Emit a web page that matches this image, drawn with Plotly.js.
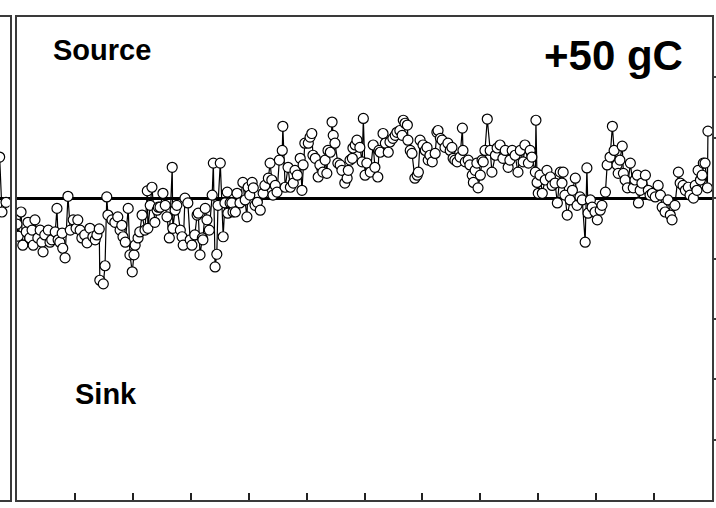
<!DOCTYPE html>
<html>
<head>
<meta charset="utf-8">
<script src="https://cdn.plot.ly/plotly-3.0.1.min.js"></script>
<style>html,body{margin:0;padding:0;background:#fff;}#chart{width:716px;height:508px;}</style>
</head>
<body>
<div id="chart"></div>
<script>
// Left (previous) panel tail
const prevMonth = [11.83, 11.87, 11.94];
const prevFlux  = [0.68, -0.23, -0.07];

// Main panel: time in months (0-12), net carbon flux (positive = source)
const month = [
0.00,0.02,0.07,0.10,0.16,0.19,0.22,0.26,0.28,0.31,0.36,0.40,0.43,0.45,0.48,0.54,0.57,0.60,0.66,0.69,
0.71,0.74,0.78,0.79,0.83,0.88,0.92,0.97,1.02,1.05,1.09,1.12,1.17,1.21,1.26,1.31,1.35,1.38,1.42,1.43,
1.49,1.52,1.55,1.57,1.64,1.69,1.74,1.78,1.81,1.83,1.87,1.92,1.95,1.99,2.02,2.04,2.09,2.12,2.16,2.21,
2.25,2.26,2.30,2.33,2.38,2.42,2.44,2.47,2.52,2.56,2.59,2.63,2.68,2.69,2.73,2.76,2.82,2.85,2.87,2.90,
2.95,2.99,3.02,3.07,3.11,3.13,3.16,3.20,3.21,3.25,3.28,3.32,3.37,3.39,3.42,3.45,3.47,3.51,3.56,3.59,
3.63,3.64,3.68,3.71,3.73,3.77,3.80,3.85,3.90,3.94,3.97,3.99,4.02,4.06,4.08,4.11,4.15,4.20,4.25,4.28,
4.34,4.37,4.40,4.42,4.46,4.49,4.53,4.58,4.59,4.63,4.68,4.72,4.77,4.80,4.84,4.89,4.92,4.94,4.97,5.03,
5.06,5.09,5.11,5.15,5.20,5.23,5.28,5.32,5.35,5.37,5.41,5.44,5.46,5.49,5.54,5.58,5.61,5.66,5.70,5.72,
5.75,5.79,5.80,5.84,5.87,5.92,5.96,5.98,6.01,6.04,6.10,6.15,6.18,6.23,6.25,6.27,6.32,6.36,6.41,6.44,
6.49,6.53,6.56,6.61,6.65,6.67,6.70,6.74,6.75,6.79,6.82,6.87,6.91,6.93,6.96,7.01,7.05,7.08,7.10,7.13,
7.17,7.22,7.25,7.27,7.31,7.34,7.39,7.44,7.48,7.51,7.53,7.56,7.60,7.65,7.69,7.70,7.74,7.79,7.82,7.86,
7.88,7.91,7.94,7.96,8.00,8.03,8.05,8.08,8.12,8.17,8.20,8.26,8.29,8.34,8.39,8.43,8.48,8.51,8.55,8.60,
8.65,8.69,8.74,8.77,8.83,8.86,8.89,8.95,8.96,8.98,9.00,9.03,9.07,9.12,9.15,9.21,9.24,9.29,9.33,9.38,
9.41,9.43,9.46,9.50,9.55,9.59,9.64,9.67,9.72,9.76,9.81,9.84,9.86,9.90,9.93,9.98,10.02,10.07,10.10,10.16,
10.19,10.24,10.28,10.31,10.36,10.38,10.41,10.45,10.47,10.50,10.54,10.59,10.64,10.67,10.71,10.73,10.76,10.79,10.85,10.90,
10.93,10.97,11.02,11.07,11.11,11.14,11.19,11.24,11.28,11.31,11.36,11.42,11.45,11.50,11.54,11.59,11.62,11.68,11.71,11.74,
11.76,11.80,11.83,11.85,11.88,11.92,11.93
];
const flux = [
-0.43,-0.63,-0.23,-0.78,-0.56,-0.40,-0.66,-0.53,-0.78,-0.36,-0.66,-0.53,-0.73,-0.89,-0.61,-0.53,-0.73,-0.69,-0.56,-0.17,
-0.69,-0.73,-0.58,-0.83,-0.99,0.03,-0.53,-0.36,-0.50,-0.36,-0.53,-0.66,-0.61,-0.74,-0.50,-0.64,-0.69,-0.61,-0.51,-1.36,
-1.42,-1.12,0.02,-0.28,-0.36,-0.40,-0.31,-0.53,-0.45,-0.64,-0.73,-0.17,-0.94,-1.22,-0.94,-0.78,-0.66,-0.56,-0.28,-0.53,
0.12,-0.50,-0.12,0.18,-0.40,-0.20,-0.15,-0.15,0.08,-0.12,-0.31,-0.66,0.51,-0.50,-0.20,-0.12,-0.53,-0.64,-0.78,0.00,
-0.08,-0.69,-0.78,-0.61,-0.28,-0.25,-0.94,-0.66,-0.69,-0.17,-0.36,-0.53,0.05,0.58,-1.14,-0.93,-0.12,0.58,-0.64,-0.08,
0.10,-0.25,-0.08,-0.08,-0.23,-0.23,0.08,-0.08,0.26,-0.03,-0.31,0.18,0.05,0.26,0.17,-0.12,-0.07,-0.20,0.08,0.21,
0.33,0.58,0.30,0.05,0.21,0.10,0.63,0.79,1.19,0.18,0.51,0.18,0.25,0.46,0.38,0.66,0.13,0.55,0.91,0.91,
1.01,1.07,0.71,0.66,0.35,0.55,0.43,0.63,0.41,0.79,0.76,1.26,1.04,0.91,0.58,0.55,0.46,0.25,0.33,0.46,
0.63,0.66,0.83,0.88,0.96,0.84,0.60,1.32,0.38,0.58,0.43,0.88,0.51,0.35,0.79,0.76,1.07,0.91,0.76,0.93,
0.99,1.04,1.09,1.12,1.04,1.29,1.24,1.21,0.96,0.79,0.74,0.33,0.38,0.43,0.96,0.88,0.79,0.84,0.63,0.71,
0.60,0.74,1.09,1.12,0.99,0.96,0.84,0.91,0.79,0.84,0.66,0.63,0.60,0.68,1.16,0.79,0.60,0.63,0.55,0.38,
0.26,0.46,0.58,0.17,0.38,0.63,0.60,0.79,1.31,0.79,0.43,0.71,0.83,0.88,0.66,0.79,0.51,0.63,0.79,0.71,
0.43,0.79,0.60,0.88,0.58,0.79,0.68,0.43,1.29,0.26,0.08,0.38,0.08,0.30,0.46,0.35,0.21,0.25,-0.08,0.43,
0.25,0.43,0.05,-0.28,-0.03,0.13,0.33,-0.12,0.02,-0.03,-0.73,0.50,-0.25,-0.03,-0.15,-0.23,-0.36,-0.20,-0.12,0.10,
0.55,0.68,1.19,0.79,0.55,0.41,0.63,0.86,0.41,0.30,0.17,0.58,0.17,0.30,0.38,-0.08,0.13,0.25,0.38,0.13,
0.05,0.08,0.02,0.21,0.05,-0.15,-0.23,-0.03,-0.28,-0.36,-0.12,0.43,0.25,0.21,0.13,0.18,0.05,0.00,0.21,0.13,
0.46,0.30,0.38,0.58,0.58,0.17,1.11
];

const yTicks = [-4, -3, -2, -1, 0, 1, 2];
const xTicks = [1, 2, 3, 4, 5, 6, 7, 8, 9, 10, 11];
const labels = {source: 'Source', sink: 'Sink', scenario: '+50 gC'};

const W = 716, H = 508;
const yDom = [1 - 500 / H, 1 - 17 / H];
const frame = '#3a3a3a';
const FONT = 'Liberation Sans, Arial, Helvetica, sans-serif';

const markerStyle = {symbol: 'circle', size: 10, color: '#ffffff', line: {color: '#000000', width: 1.2}};

const traces = [
  {x: prevMonth, y: prevFlux, xaxis: 'x', yaxis: 'y', type: 'scatter', mode: 'lines+markers',
   line: {color: '#000', width: 1.2}, marker: markerStyle, hoverinfo: 'skip', showlegend: false},
  {x: month, y: flux, xaxis: 'x2', yaxis: 'y2', type: 'scatter', mode: 'lines+markers',
   line: {color: '#000', width: 1.2}, marker: markerStyle, showlegend: false}
];

const layout = {
  width: W, height: H,
  margin: {l: 0, r: 0, t: 0, b: 0, pad: 0},
  paper_bgcolor: '#fff', plot_bgcolor: '#fff',
  showlegend: false,
  xaxis: {domain: [0, 9.5 / W], range: [11.836, 12], showgrid: false, zeroline: false,
          showline: true, mirror: true, linecolor: frame, linewidth: 2,
          ticks: '', showticklabels: false, fixedrange: true},
  yaxis: {domain: yDom, range: [-5, 3], anchor: 'x', side: 'right', showgrid: false,
          zeroline: true, zerolinecolor: '#000', zerolinewidth: 3,
          showline: true, linecolor: frame, linewidth: 2, ticks: '', showticklabels: false},
  xaxis2: {domain: [17 / W, 712 / W], range: [0, 12], anchor: 'y2', showgrid: false, zeroline: false,
           showline: true, mirror: true, linecolor: frame, linewidth: 2,
           tickmode: 'array', tickvals: xTicks, ticks: 'inside', ticklen: 7, tickwidth: 2, tickcolor: '#222',
           showticklabels: false},
  yaxis2: {domain: yDom, range: [-5, 3], anchor: 'x2', side: 'right', showgrid: false,
           zeroline: true, zerolinecolor: '#000', zerolinewidth: 3,
           showline: true, mirror: true, linecolor: frame, linewidth: 2,
           tickmode: 'array', tickvals: yTicks, ticks: 'outside', ticklen: 6, tickwidth: 2, tickcolor: frame,
           showticklabels: false},
  annotations: [
    {text: '<b>' + labels.source + '</b>', xref: 'paper', yref: 'paper', x: 102 / W, y: 1 - 50 / H,
     xanchor: 'center', yanchor: 'middle', showarrow: false, font: {family: FONT, size: 29, color: '#000'}},
    {text: '<b>' + labels.sink + '</b>', xref: 'paper', yref: 'paper', x: 106 / W, y: 1 - 394 / H,
     xanchor: 'center', yanchor: 'middle', showarrow: false, font: {family: FONT, size: 29, color: '#000'}},
    {text: '<b>' + labels.scenario + '</b>', xref: 'paper', yref: 'paper', x: 613 / W, y: 1 - 55 / H,
     xanchor: 'center', yanchor: 'middle', showarrow: false, font: {family: FONT, size: 42, color: '#000'}}
  ]
};

Plotly.newPlot('chart', traces, layout, {displayModeBar: false, staticPlot: true});
</script>
</body>
</html>
